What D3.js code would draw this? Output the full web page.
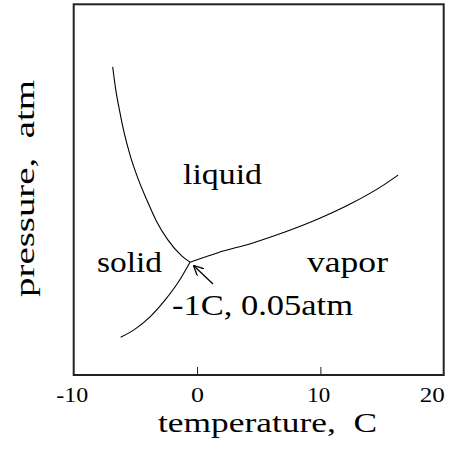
<!DOCTYPE html>
<html><head><meta charset="utf-8">
<script src="https://cdn.jsdelivr.net/npm/d3@7"></script>
<style>
html,body{margin:0;padding:0;background:#fff;}
</style></head>
<body><svg id="c" width="451" height="452"></svg>
<script>
// ---- data ----
const xTicks = [-10, 0, 10, 20];
const xTickLabels = ["-10", "0", "10", "20"];
const meltTemp = [-6.84, -6.61, -6.29, -5.92, -5.43, -4.83, -4.10, -3.29, -2.35, -1.22, -0.57];
const meltPres = [0.1330, 0.1238, 0.1143, 0.1048, 0.0949, 0.0854, 0.0759, 0.0664, 0.0582, 0.0513, 0.0487];
const sublTemp = [-6.19, -5.03, -3.81, -2.60, -1.54, -0.57];
const sublPres = [0.0163, 0.0198, 0.0251, 0.0323, 0.0399, 0.0487];
const vapTemp = [-0.57, 1.70, 4.46, 7.13, 9.81, 12.57, 15.24, 16.30];
const vapPres = [0.0487, 0.0528, 0.0569, 0.0617, 0.0673, 0.0742, 0.0824, 0.0863];
const regionNames = ["liquid", "solid", "vapor"];
const triplePointLabel = "-1C, 0.05atm";
const xTitle = "temperature,  C";
const yTitle = "pressure,  atm";

// ---- layout ----
const FONT = "'Liberation Serif', 'Times New Roman', Times, serif";
const L = 73.7, R = 443.7, T = 4.3, B = 375;
const svg = d3.select("#c");
const x = d3.scaleLinear().domain([-10, 20]).range([L, R]);
const y = d3.scaleLinear().domain([0, 0.16]).range([B, T]);

function fit(sel, w) {
  sel.style("font-family", FONT).style("white-space", "pre").attr("fill", "#000")
    .attr("textLength", w).attr("lengthAdjust", "spacingAndGlyphs");
}

// frame
svg.append("rect").attr("x", L).attr("y", T).attr("width", R - L).attr("height", B - T)
  .attr("fill", "none").attr("stroke", "#222").attr("stroke-width", 2);

// x axis
const ax = svg.append("g").attr("transform", `translate(0,${B})`)
  .call(d3.axisBottom(x).tickValues(xTicks).tickSize(-8).tickPadding(0)
    .tickFormat((d, i) => xTickLabels[i]));
ax.attr("font-family", null);
ax.select(".domain").remove();
ax.selectAll(".tick line").attr("stroke", "#222").attr("stroke-width", 1)
  .attr("display", d => (d === -10 || d === 20) ? "none" : null);
const tickW = [32, 13, 23, 25];
ax.selectAll(".tick text").attr("font-size", 20)
  .attr("y", 27).attr("dy", 0)
  .attr("dx", d => d === 20 ? -12 : (d === 10 ? -2 : (d === -10 ? -2 : 0)))
  .each(function(d, i) { fit(d3.select(this), tickW[i]); });

// axis titles
svg.append("text").attr("x", 267.5).attr("y", 432).attr("text-anchor", "middle")
  .attr("font-size", 28).text(xTitle).call(fit, 219);
svg.append("text").attr("transform", "translate(34,188.5) rotate(-90)")
  .attr("text-anchor", "middle").attr("font-size", 28).text(yTitle).call(fit, 217);

// curves
const line = d3.line().x(d => x(d[0])).y(d => y(d[1])).curve(d3.curveMonotoneX);
[[meltTemp, meltPres], [sublTemp, sublPres], [vapTemp, vapPres]].forEach(([t, p]) => {
  svg.append("path").datum(t.map((v, i) => [v, p[i]])).attr("d", line)
    .attr("fill", "none").attr("stroke", "#000").attr("stroke-width", 1.1);
});

// region labels
const regionPos = [[183, 184, 79], [97, 272, 65], [307, 272, 81]];
regionNames.forEach((n, i) => {
  svg.append("text").attr("x", regionPos[i][0]).attr("y", regionPos[i][1])
    .attr("font-size", 30).text(n).call(fit, regionPos[i][2]);
});
svg.append("text").attr("x", 172).attr("y", 315).attr("font-size", 30)
  .text(triplePointLabel).call(fit, 181);

// arrow
svg.append("defs").append("marker").attr("id", "ah").attr("viewBox", "0 0 10 10")
  .attr("refX", 10).attr("refY", 5).attr("markerWidth", 10).attr("markerHeight", 10)
  .attr("markerUnits", "userSpaceOnUse").attr("orient", "auto")
  .append("path").attr("d", "M0,0 L10,5 L0,10").attr("fill", "none")
  .attr("stroke", "#000").attr("stroke-width", 1.3);
svg.append("line").attr("x1", 213).attr("y1", 284).attr("x2", 193.5).attr("y2", 265.5)
  .attr("stroke", "#000").attr("stroke-width", 1.3).attr("marker-end", "url(#ah)");
</script></body></html>
